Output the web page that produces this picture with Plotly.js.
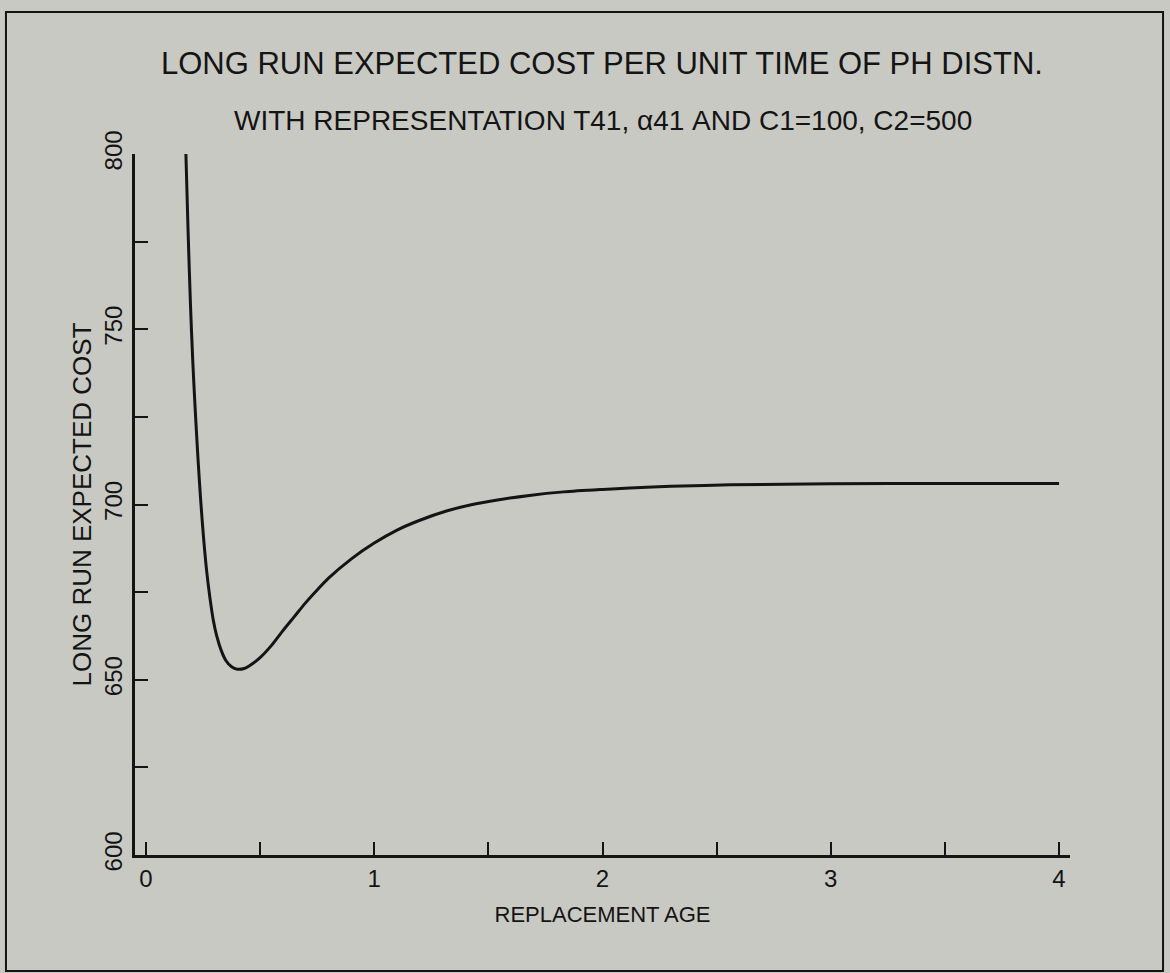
<!DOCTYPE html>
<html>
<head>
<meta charset="utf-8">
<script src="https://cdn.plot.ly/plotly-3.0.1.min.js"></script>
<style>
html,body{margin:0;padding:0;background:#c9c9c3;}
#chart{width:1170px;height:973px;}
</style>
</head>
<body>
<div id="chart"></div>
<script>
// Replacement age (x) and long-run expected cost (y)
var replacementAge = [0.175, 0.185, 0.195, 0.205, 0.215, 0.228, 0.24, 0.253, 0.266, 0.28, 0.295, 0.31, 0.33, 0.35, 0.375, 0.40, 0.43, 0.46, 0.50, 0.55, 0.60, 0.65, 0.70, 0.75, 0.80, 0.90, 1.00, 1.10, 1.20, 1.32, 1.43, 1.54, 1.68, 1.83, 2.00, 2.12, 2.30, 2.56, 3.00, 3.50, 4.00];
var expectedCost   = [800, 777, 757, 741, 728, 713, 701, 690, 681, 673.5, 667, 662.5, 658.3, 655.5, 653.7, 653, 653.2, 654.3, 656.3, 659.8, 664, 668, 672, 675.6, 679, 684.5, 689, 692.7, 695.5, 698.2, 700, 701.3, 702.6, 703.6, 704.3, 704.7, 705.2, 705.6, 705.9, 706.0, 706.0];

var yTickVals = [600, 625, 650, 675, 700, 725, 750, 775, 800];
var yTickText = ['600', '', '650', '', '700', '', '750', '', '800'];
var xTickVals = [0, 0.5, 1, 1.5, 2, 2.5, 3, 3.5, 4];
var xTickText = ['0', '', '1', '', '2', '', '3', '', '4'];

var titleText = 'LONG RUN EXPECTED COST PER UNIT TIME OF PH DISTN.';
var subtitleText = 'WITH REPRESENTATION T41, \u03b141 AND C1=100, C2=500';
var xTitle = 'REPLACEMENT AGE';
var yTitle = 'LONG RUN EXPECTED COST';

var ink = '#141414';
var bg = '#c9c9c3';
var fontFam = '"Liberation Sans", Arial, sans-serif';

var trace = {
  x: replacementAge,
  y: expectedCost,
  type: 'scatter',
  mode: 'lines',
  line: {color: ink, width: 3, shape: 'spline', smoothing: 0.8},
  hoverinfo: 'x+y'
};

var layout = {
  width: 1170,
  height: 973,
  paper_bgcolor: bg,
  plot_bgcolor: bg,
  showlegend: false,
  margin: {l: 135, r: 100, t: 154, b: 118, pad: 0},
  font: {family: fontFam, color: ink},
  title: {
    text: titleText,
    font: {family: fontFam, size: 31, color: ink},
    x: 0.5145, xanchor: 'center',
    y: 0.935, yanchor: 'middle'
  },
  annotations: [{
    text: subtitleText,
    xref: 'paper', yref: 'paper',
    x: 0.5, y: 1.0485,
    xanchor: 'center', yanchor: 'middle',
    showarrow: false,
    font: {family: fontFam, size: 28, color: ink}
  }],
  xaxis: {
    range: [-0.048, 4.048],
    tickvals: xTickVals,
    ticktext: xTickText,
    ticks: 'inside',
    ticklen: 13,
    tickwidth: 2,
    tickcolor: ink,
    showline: true,
    linecolor: ink,
    linewidth: 3,
    showgrid: false,
    zeroline: false,
    tickfont: {family: fontFam, size: 24, color: ink},
    title: {text: xTitle, font: {family: fontFam, size: 22, color: ink}, standoff: 16},
    fixedrange: true
  },
  yaxis: {
    range: [600, 800],
    tickvals: yTickVals,
    ticktext: yTickText,
    ticks: 'inside',
    ticklen: 13,
    tickwidth: 2,
    tickcolor: ink,
    tickangle: -90,
    showline: true,
    linecolor: ink,
    linewidth: 3,
    showgrid: false,
    zeroline: false,
    tickfont: {family: fontFam, size: 24, color: ink},
    title: {text: yTitle, font: {family: fontFam, size: 26, color: ink}, standoff: 2},
    fixedrange: true
  },
  shapes: [{
    type: 'rect',
    xref: 'paper', yref: 'paper',
    x0: -0.138, x1: 1.0995,
    y0: -0.1655, y1: 1.2025,
    line: {color: ink, width: 2},
    fillcolor: 'rgba(0,0,0,0)',
    layer: 'below'
  }]
};

Plotly.newPlot('chart', [trace], layout, {displayModeBar: false, staticPlot: true});
</script>
</body>
</html>
